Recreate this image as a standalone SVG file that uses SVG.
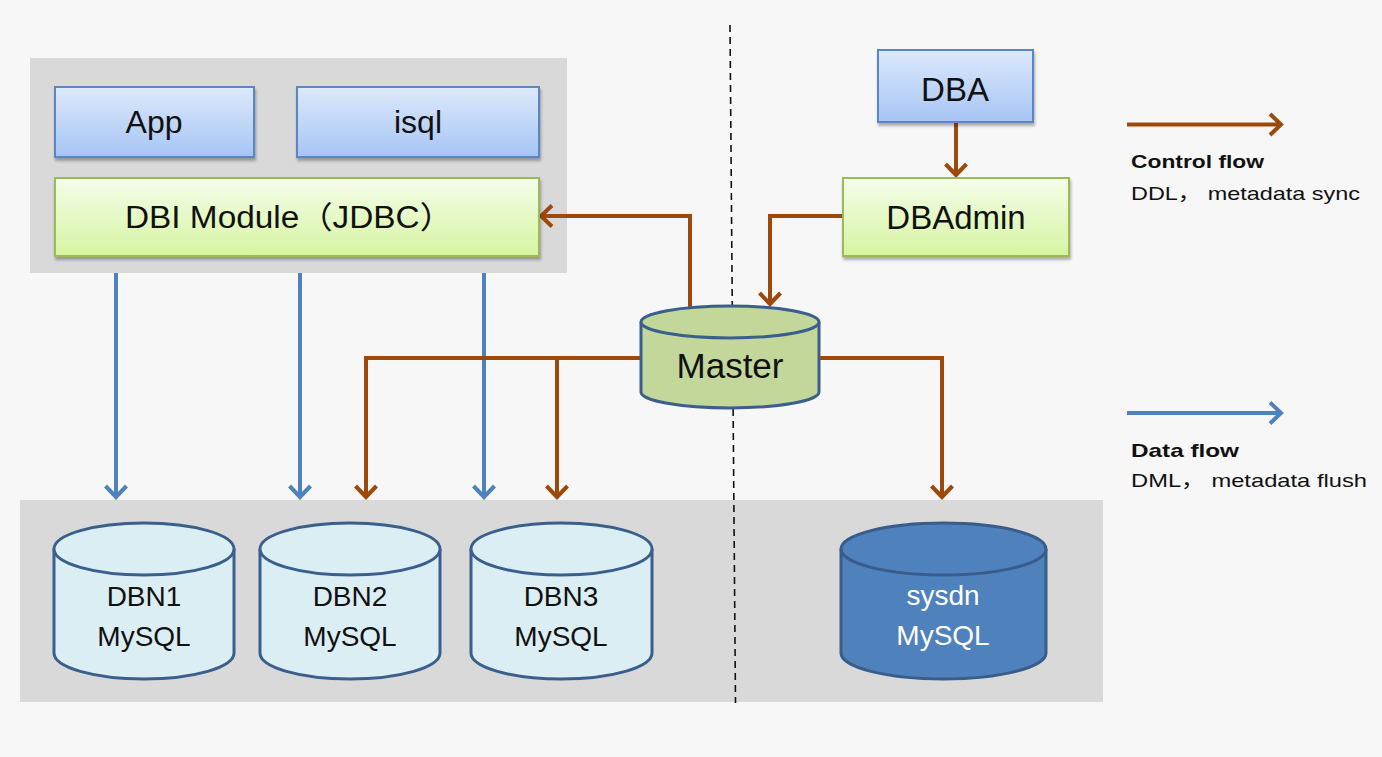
<svg xmlns="http://www.w3.org/2000/svg" width="1382" height="757" viewBox="0 0 1382 757">
<style>
.bg{fill:#f7f7f7}
.panel{fill:#d9d9d9}
.bbox{fill:url(#gBlue);stroke:#5a86c3;stroke-width:2;filter:url(#sh)}
.gbox{fill:url(#gGreen);stroke:#9bbb59;stroke-width:2;filter:url(#sh)}
.t{font-family:"Liberation Sans",Arial,"Noto Sans CJK SC",sans-serif;fill:#111;text-anchor:middle}
.cyl{fill:#dbeef4;stroke:#3b5f8c;stroke-width:3}
.cylM{fill:#c4d79b;stroke:#3b5f8c;stroke-width:3}
.cylS{fill:#4f81bd;stroke:#385d8a;stroke-width:3}
.ctl{fill:none;stroke:#9c4a0c;stroke-width:4}
.dat{fill:none;stroke:#4f81bd;stroke-width:4}
.lg{font-family:"Liberation Sans",Arial,"Noto Sans CJK SC",sans-serif;fill:#111}
</style>
<defs>
<linearGradient id="gBlue" x1="0" y1="0" x2="0" y2="1"><stop offset="0" stop-color="#dde9fb"/><stop offset="1" stop-color="#a6c5f5"/></linearGradient>
<linearGradient id="gGreen" x1="0" y1="0" x2="0" y2="1"><stop offset="0" stop-color="#f5fde9"/><stop offset="1" stop-color="#d6f4a2"/></linearGradient>
<filter id="sh" x="-10%" y="-10%" width="130%" height="140%"><feDropShadow dx="1" dy="3" stdDeviation="1.5" flood-color="#000" flood-opacity="0.3"/></filter>
<marker id="aB" markerUnits="userSpaceOnUse" viewBox="-16 -13 20 26" markerWidth="20" markerHeight="26" refX="0" refY="0" orient="auto" overflow="visible"><path d="M-11,-10.5 L0,0 L-11,10.5" fill="none" stroke="#9c4a0c" stroke-width="4"/></marker>
<marker id="aD" markerUnits="userSpaceOnUse" viewBox="-16 -13 20 26" markerWidth="20" markerHeight="26" refX="0" refY="0" orient="auto" overflow="visible"><path d="M-11,-10.5 L0,0 L-11,10.5" fill="none" stroke="#4f81bd" stroke-width="4"/></marker>
</defs>
<rect class="bg" x="0" y="0" width="1382" height="757"/>
<rect class="panel" x="30" y="58" width="537" height="215"/>
<rect class="panel" x="20" y="500" width="1083" height="202"/>
<line x1="730" y1="25" x2="735.5" y2="703" stroke="#111" stroke-width="1.6" stroke-dasharray="7,5"/>

<g id="connectors">
<path class="dat" d="M116,273 V497" marker-end="url(#aD)"/>
<path class="dat" d="M300,273 V497" marker-end="url(#aD)"/>
<path class="dat" d="M484,273 V497" marker-end="url(#aD)"/>
<path class="ctl" d="M690,308 V216 H541" marker-end="url(#aB)"/>
<path class="ctl" d="M843,216 H770 V304" marker-end="url(#aB)"/>
<path class="ctl" d="M956,123 V175" marker-end="url(#aB)"/>
<path class="ctl" d="M641,358 H366 V497" marker-end="url(#aB)"/>
<path class="ctl" d="M557,358 V497" marker-end="url(#aB)"/>
<path class="ctl" d="M819,358 H942 V497" marker-end="url(#aB)"/>
</g>

<g id="app"><rect class="bbox" x="55" y="87" width="199" height="70"/><text class="t" x="154" y="133" font-size="32">App</text></g>
<g id="isql"><rect class="bbox" x="297" y="87" width="242" height="70"/><text class="t" x="418" y="133" font-size="32">isql</text></g>
<g id="dbi"><rect class="gbox" x="55" y="178" width="484" height="78"/><text class="t" x="289" y="228" font-size="31" textLength="328" lengthAdjust="spacingAndGlyphs">DBI Module（JDBC）</text></g>
<g id="dba"><rect class="bbox" x="878" y="50" width="155" height="72"/><text class="t" x="955" y="101" font-size="33">DBA</text></g>
<g id="dbadmin"><rect class="gbox" x="843" y="178" width="226" height="78"/><text class="t" x="956" y="229" font-size="33">DBAdmin</text></g>

<g id="master">
<path class="cylM" d="M641,322 V392 A89,16 0 0 0 819,392 V322"/>
<ellipse class="cylM" cx="730" cy="322" rx="89" ry="16"/>
<text class="t" x="730" y="378" font-size="35">Master</text>
</g>

<g id="dbn1">
<path class="cyl" d="M54,549 V653 A90,26 0 0 0 234,653 V549"/>
<ellipse class="cyl" cx="144" cy="549" rx="90" ry="26"/>
<text class="t" x="144" y="606" font-size="28">DBN1</text><text class="t" x="144" y="646" font-size="28">MySQL</text>
</g>
<g id="dbn2">
<path class="cyl" d="M260,549 V653 A90,26 0 0 0 440,653 V549"/>
<ellipse class="cyl" cx="350" cy="549" rx="90" ry="26"/>
<text class="t" x="350" y="606" font-size="28">DBN2</text><text class="t" x="350" y="646" font-size="28">MySQL</text>
</g>
<g id="dbn3">
<path class="cyl" d="M471,549 V653 A90.5,26 0 0 0 652,653 V549"/>
<ellipse class="cyl" cx="561.5" cy="549" rx="90.5" ry="26"/>
<text class="t" x="561" y="606" font-size="28">DBN3</text><text class="t" x="561" y="646" font-size="28">MySQL</text>
</g>
<g id="sysdn">
<path class="cylS" d="M841,549 V653 A102.5,26 0 0 0 1046,653 V549"/>
<ellipse class="cylS" cx="943.5" cy="549" rx="102.5" ry="26"/>
<text class="t" x="943" y="605" font-size="28" style="fill:#fff">sysdn</text><text class="t" x="943" y="645" font-size="28" style="fill:#fff">MySQL</text>
</g>

<g id="legend">
<path class="ctl" d="M1127,124.5 H1281" marker-end="url(#aB)"/>
<text class="lg" x="1131" y="168" font-size="19" font-weight="bold" textLength="133" lengthAdjust="spacingAndGlyphs">Control flow</text>
<text class="lg" x="1131" y="200" font-size="19" textLength="229" lengthAdjust="spacingAndGlyphs">DDL， metadata sync</text>
<path class="dat" d="M1127,413 H1281" marker-end="url(#aD)"/>
<text class="lg" x="1131" y="457" font-size="19" font-weight="bold" textLength="108" lengthAdjust="spacingAndGlyphs">Data flow</text>
<text class="lg" x="1131" y="487" font-size="19" textLength="236" lengthAdjust="spacingAndGlyphs">DML， metadata flush</text>
</g>
</svg>
